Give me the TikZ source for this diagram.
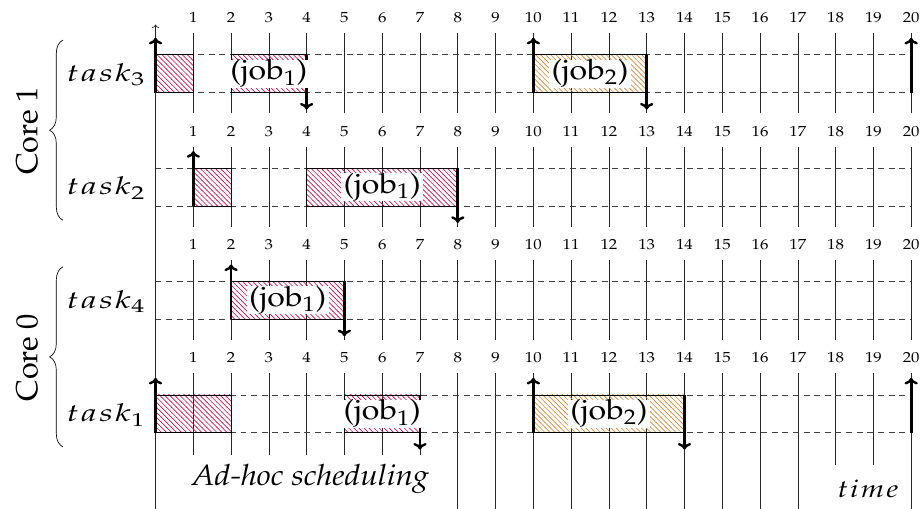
\documentclass[tikz,border=0pt]{standalone}
\usepackage[T1]{fontenc}
\usepackage{mathpazo}
\usetikzlibrary{patterns,decorations.pathreplacing,arrows.meta}
\definecolor{jobred}{HTML}{D8114E}
\definecolor{joborange}{HTML}{D98A3A}
\pgfdeclarepatternformonly[\hatchcolor]{hatchnw}{\pgfqpoint{-1pt}{-1pt}}{\pgfqpoint{4.8pt}{4.8pt}}{\pgfqpoint{3.8pt}{3.8pt}}{%
  \pgfsetlinewidth{0.5pt}%
  \pgfpathmoveto{\pgfqpoint{-0.2pt}{4pt}}%
  \pgfpathlineto{\pgfqpoint{4pt}{-0.2pt}}%
  \pgfusepath{stroke}}
\newcommand{\hatchcolor}{black}
\newcommand{\wide}[2]{\scalebox{#1}[1]{#2}}
\begin{document}
\begin{tikzpicture}[x=1cm,y=1cm,
  gridline/.style={black!85, line width=0.5pt},
  dashline/.style={black!75, line width=0.5pt, dash pattern=on 4.5pt off 3.5pt},
  ticklabel/.style={font=\fontsize{11}{13}\selectfont, inner sep=0pt},
  thickarrow/.style={-{To[length=5pt,width=10pt,line width=1.8pt]}, line width=2.1pt},
  redjob/.style={draw=black, line width=0.5pt, pattern=hatchnw, pattern color=jobred},
  orangejob/.style={draw=black, line width=0.5pt, pattern=hatchnw, pattern color=joborange},
  joblabel/.style={fill=white, inner xsep=2pt, inner ysep=0pt, font=\fontsize{21}{25}\selectfont},
  tasklabel/.style={anchor=base, inner sep=0pt, font=\fontsize{18.5}{21}\selectfont},
  corelabel/.style={rotate=90, inner sep=0pt, font=\fontsize{23}{27}\selectfont},
  corebrace/.style={decorate, decoration={brace, amplitude=10pt}, line width=0.5pt}
]
\useasboundingbox (-4.116,-2.0) rectangle (20.26,11.45);

% rows: grid, dashed guides, time numbers
\foreach \b/\r in {0/a,3/b,6/c,9/d}{
  \foreach \t in {1,...,20}{
    \ifnum\b=0
      \draw[gridline] (\t,-2.1) -- (\t,\b+1.57);
    \else
      \draw[gridline] (\t,\b-0.55) -- (\t,\b+1.57);
    \fi
    \node[ticklabel] (n\r\t) at (\t,\b+1.98) {\wide{1.15}{\t}};
  }
  \draw[dashline] (0,\b) -- (20,\b);
  \draw[dashline] (0,\b+1) -- (20,\b+1);
}
% time axis
\draw[->, black!85, line width=0.5pt] (0,-2.1) -- (0,10.8);

% task3 (row 9..10)
\draw[redjob] (0,9) rectangle (1,10);
\draw[redjob] (2,9) rectangle (4,10);
\draw[orangejob] (10,9) rectangle (13,10);
\draw[thickarrow] (0,9) -- (0,10.45);
\draw[thickarrow] (4,10) -- (4,8.55);
\draw[thickarrow] (10,9) -- (10,10.45);
\draw[thickarrow] (13,10) -- (13,8.55);
\draw[thickarrow] (20,9) -- (20,10.45);
\node[joblabel] (j31) at (3,9.5) {\wide{1.15}{(job$_1$)}};
\node[joblabel] (j32) at (11.5,9.5) {\wide{1.15}{(job$_2$)}};

% task2 (row 6..7)
\draw[redjob] (1,6) rectangle (2,7);
\draw[redjob] (4,6) rectangle (8,7);
\draw[thickarrow] (1,6) -- (1,7.45);
\draw[thickarrow] (8,7) -- (8,5.55);
\node[joblabel] (j21) at (6,6.5) {\wide{1.15}{(job$_1$)}};

% task4 (row 3..4)
\draw[redjob] (2,3) rectangle (5,4);
\draw[thickarrow] (2,3) -- (2,4.45);
\draw[thickarrow] (5,4) -- (5,2.55);
\node[joblabel] (j41) at (3.5,3.5) {\wide{1.15}{(job$_1$)}};

% task1 (row 0..1)
\draw[redjob] (0,0) rectangle (2,1);
\draw[redjob] (5,0) rectangle (7,1);
\draw[orangejob] (10,0) rectangle (14,1);
\draw[thickarrow] (0,0) -- (0,1.45);
\draw[thickarrow] (7,1) -- (7,-0.45);
\draw[thickarrow] (10,0) -- (10,1.45);
\draw[thickarrow] (14,1) -- (14,-0.45);
\draw[thickarrow] (20,0) -- (20,1.45);
\node[joblabel] (j11) at (6,0.5) {\wide{1.15}{(job$_1$)}};
\node[joblabel] (j12) at (12,0.5) {\wide{1.15}{(job$_2$)}};

% task labels
\node[tasklabel] (t3) at (-1.31,9.29) {\wide{1.38}{$t\mkern1mu a\mkern1mu s\mkern1mu k_3$}};
\node[tasklabel] (t2) at (-1.31,6.29) {\wide{1.38}{$t\mkern1mu a\mkern1mu s\mkern1mu k_2$}};
\node[tasklabel] (t4) at (-1.31,3.29) {\wide{1.38}{$t\mkern1mu a\mkern1mu s\mkern1mu k_4$}};
\node[tasklabel] (t1) at (-1.31,0.29) {\wide{1.38}{$t\mkern1mu a\mkern1mu s\mkern1mu k_1$}};

% cores
\draw[corebrace] (-2.45,5.62) -- (-2.45,10.39);
\draw[corebrace] (-2.45,-0.38) -- (-2.45,4.39);
\node[corelabel] (c1) at (-3.40,7.98) {Core 1};
\node[corelabel] (c0) at (-3.40,1.98) {Core 0};

% bottom captions
\fill[white] (0.03,-2.1) rectangle (7.93,-0.6);
\node[inner sep=0pt, anchor=base, font=\fontsize{22}{26}\selectfont\itshape] (adhoc) at (4.1,-1.39) {\wide{1.08}{Ad-hoc scheduling}};
\fill[white] (17.5,-2.1) rectangle (19.95,-0.86);
\node[inner sep=0pt, anchor=base, font=\fontsize{18.5}{21}\selectfont] (time) at (18.86,-1.71) {\wide{1.22}{$t\mkern1mu i\mkern1mu m\mkern1mu e$}};
\end{tikzpicture}
\end{document}
